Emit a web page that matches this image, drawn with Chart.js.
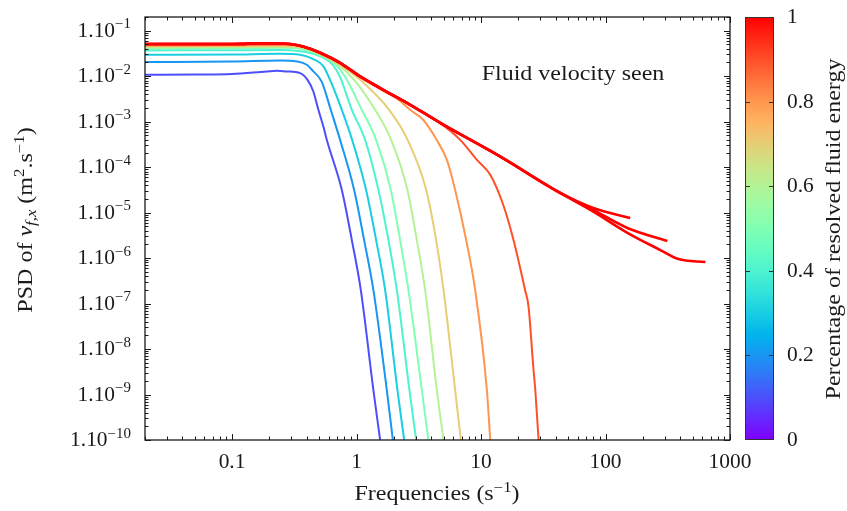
<!DOCTYPE html>
<html>
<head>
<meta charset="utf-8">
<script src="https://cdn.jsdelivr.net/npm/chart.js@4.4.1/dist/chart.umd.min.js"></script>
<style>
  body { margin: 0; background: #fff; }
  canvas { display: block; }
</style>
</head>
<body>
<canvas id="psdChart" width="847" height="511"></canvas>
<script>
// PSD curves, [frequency, psd]
const psd01 = [[0.02, 0.0107], [0.05, 0.0109], [0.1, 0.0112], [0.19, 0.0127], [0.23, 0.0131], [0.275, 0.0127], [0.352, 0.0117], [0.404, 0.0083], [0.45, 0.0046], [0.494, 0.00182], [0.542, 7.8e-4], [0.577, 3.98e-4], [0.762, 3.15e-5], [0.917, 2.49e-6], [1.083, 1.97e-7], [1.367, 1.24e-9], [1.548, 1e-10]];
const psd02 = [[0.02, 0.0205], [0.1, 0.021], [0.243, 0.0222], [0.331, 0.0211], [0.399, 0.0178], [0.45, 0.0127], [0.526, 0.0075], [0.621, 0.00182], [0.738, 3.98e-4], [0.957, 3.15e-5], [1.151, 2.49e-6], [1.367, 1.97e-7], [1.752, 1.24e-9], [1.958, 1e-10]];
const psd03 = [[0.02, 0.0296], [0.1, 0.03], [0.243, 0.0311], [0.352, 0.0296], [0.45, 0.0238], [0.542, 0.0164], [0.613, 0.0083], [0.762, 0.00182], [0.922, 3.98e-4], [1.194, 3.15e-5], [1.437, 2.49e-6], [1.698, 1.97e-7], [2.133, 1.24e-9], [2.414, 1e-10]];
const psd04 = [[0.02, 0.0368], [0.1, 0.0372], [0.243, 0.0375], [0.45, 0.0311], [0.577, 0.023], [0.65, 0.0172], [0.738, 0.0095], [0.917, 0.00182], [1.172, 3.98e-4], [1.5, 3.15e-5], [1.805, 2.49e-6], [2.109, 1.97e-7], [2.663, 1.24e-9], [3.013, 1e-10]];
const psd05 = [[0.02, 0.0402], [0.1, 0.041], [0.243, 0.0422], [0.372, 0.0391], [0.51, 0.029], [0.694, 0.0172], [0.836, 0.0083], [1.103, 0.00182], [1.437, 3.98e-4], [1.887, 3.15e-5], [2.24, 2.49e-6], [2.614, 1.97e-7], [3.35, 1.24e-9], [3.78, 1e-10]];
const psd06 = [[0.02, 0.0429], [0.1, 0.0435], [0.243, 0.0444], [0.372, 0.0412], [0.51, 0.0300], [0.738, 0.0165], [0.957, 0.0083], [1.411, 0.00182], [1.897, 3.98e-4], [2.565, 3.15e-5], [3.05, 2.49e-6], [3.56, 1.97e-7], [4.42, 1.24e-9], [5.0, 1e-10]];
const psd07 = [[0.02, 0.045], [0.1, 0.0455], [0.243, 0.0455], [0.372, 0.0433], [0.51, 0.031], [0.738, 0.0178], [1.069, 0.0083], [1.828, 0.00182], [2.574, 3.98e-4], [3.63, 3.15e-5], [4.36, 2.49e-6], [5.0, 1.97e-7], [6.2, 1.24e-9], [6.89, 1e-10]];
const psd08 = [[0.02, 0.0474], [0.1, 0.0478], [0.292, 0.0492], [0.372, 0.0438], [0.51, 0.0316], [0.738, 0.0189], [1.069, 0.0094], [1.64, 0.00474], [2.24, 0.00285], [2.697, 0.00182], [3.43, 0.0011], [4.4, 3.98e-4], [5.32, 1.44e-4], [6.2, 3.15e-5], [7.6, 2.49e-6], [8.98, 1.97e-7], [11.15, 1.24e-9], [11.86, 1e-10]];
const psd09 = [[0.02, 0.0497], [0.1, 0.05], [0.292, 0.0505], [0.372, 0.0445], [0.51, 0.0323], [0.738, 0.0194], [1.069, 0.0097], [1.64, 0.0049], [2.54, 0.00255], [4.7, 9.3e-4], [6.81, 3.98e-4], [9.27, 1.44e-4], [11.9, 6.73e-5], [15.1, 1.47e-5], [18.24, 2.49e-6], [22.6, 1.97e-7], [24.1, 8.5e-8], [26.3, 4e-9], [27.3, 1.24e-9], [29.0, 1e-10]];
const psd10a = [[0.02, 0.051], [0.1, 0.051], [0.184, 0.0531], [0.292, 0.051], [0.372, 0.045], [0.51, 0.0327], [0.738, 0.0197], [1.069, 0.00985], [1.64, 0.00501], [2.54, 0.00259], [4.7, 9.4e-4], [14.3, 1.7e-4], [43.3, 2.7e-5], [79.8, 1.26e-5], [158, 7.6e-6]];
const psd10b = [[0.02, 0.051], [0.1, 0.051], [0.184, 0.0531], [0.292, 0.051], [0.372, 0.045], [0.51, 0.0327], [0.738, 0.0197], [1.069, 0.00985], [1.64, 0.00501], [2.54, 0.00259], [4.7, 9.4e-4], [14.3, 1.7e-4], [43.3, 2.7e-5], [79.8, 1.15e-5], [150, 4.6e-6], [314, 2.37e-6]];
const psd10c = [[0.02, 0.051], [0.1, 0.051], [0.184, 0.0531], [0.292, 0.051], [0.372, 0.045], [0.51, 0.0327], [0.738, 0.0197], [1.069, 0.00985], [1.64, 0.00501], [2.54, 0.00259], [4.7, 9.4e-4], [14.3, 1.7e-4], [43.3, 2.7e-5], [79.8, 1.05e-5], [150, 3.6e-6], [276, 1.5e-6], [385, 9.5e-7], [634, 8.2e-7]];

const curves = [psd01, psd02, psd03, psd04, psd05, psd06, psd07, psd08, psd09, psd10a, psd10b, psd10c];
const energyLevels = [0.1, 0.2, 0.3, 0.4, 0.5, 0.6, 0.7, 0.8, 0.9, 1, 1, 1];

const xTicks = [0.1, 1, 10, 100, 1000];
const xTickLabels = ['0.1', '1', '10', '100', '1000'];
const yTicks = [1e-1, 1e-2, 1e-3, 1e-4, 1e-5, 1e-6, 1e-7, 1e-8, 1e-9, 1e-10];
const yTickExps = ['\u22121', '\u22122', '\u22123', '\u22124', '\u22125', '\u22126', '\u22127', '\u22128', '\u22129', '\u221210'];
const barTicks = [0, 0.2, 0.4, 0.6, 0.8, 1];
const barTickLabels = ['0', '0.2', '0.4', '0.6', '0.8', '1'];

const SERIF = '"Liberation Serif", "DejaVu Serif", serif';
const INK = '#1a1a1a';
const TXT = 1.2;   // horizontal stretch for words
const NUM = 1.07;  // horizontal stretch for numbers

// matplotlib-like "rainbow" colour map
function rainbow(v) {
    const r = Math.min(1, Math.abs(2 * v - 0.5));
    const g = Math.sin(Math.PI * v);
    const b = Math.max(0, Math.cos(Math.PI * v / 2));
    return `rgb(${Math.round(r * 255)}, ${Math.round(g * 255)}, ${Math.round(b * 255)})`;
}

// draw text made of several runs: [text, size, italic, dy]
function drawRuns(ctx, runs, x, y, align, stretch) {
    const sx = stretch || 1;
    let total = 0;
    runs.forEach(r => {
        ctx.font = (r[2] ? 'italic ' : '') + r[1] + 'px ' + SERIF;
        r.w = ctx.measureText(r[0]).width * sx;
        total += r.w;
    });
    let cx = align === 'right' ? x - total : align === 'center' ? x - total / 2 : x;
    runs.forEach(r => {
        ctx.font = (r[2] ? 'italic ' : '') + r[1] + 'px ' + SERIF;
        ctx.save();
        ctx.translate(cx, y + (r[3] || 0));
        ctx.scale(sx, 1);
        ctx.fillText(r[0], 0, 0);
        ctx.restore();
        cx += r.w;
    });
}

const decorations = {
    id: 'decorations',
    afterDatasetsDraw(chart) {
        const ctx = chart.ctx;
        const area = chart.chartArea;
        const xs = chart.scales.x;
        const ys = chart.scales.y;
        ctx.save();
        ctx.strokeStyle = INK;
        ctx.fillStyle = INK;
        ctx.textAlign = 'left';

        // ticks on all four sides, pointing inward
        ctx.lineWidth = 1;
        ctx.beginPath();
        for (let d = 0.01; d < 1001; d *= 10) {
            for (let k = 1; k <= 9; k++) {
                const v = k * d;
                if (v < 0.02 || v > 1000.001) continue;
                const px = Math.round(xs.getPixelForValue(v)) + 0.5;
                const len = k === 1 ? 6 : 3.5;
                ctx.moveTo(px, area.bottom); ctx.lineTo(px, area.bottom - len);
                ctx.moveTo(px, area.top); ctx.lineTo(px, area.top + len);
            }
        }
        for (let d = 1e-10; d < 0.5; d *= 10) {
            for (let k = 1; k <= 9; k++) {
                const v = k * d;
                if (v < 0.99e-10 || v > 0.2) continue;
                const py = Math.round(ys.getPixelForValue(v)) + 0.5;
                const len = k === 1 ? 6 : 3.5;
                ctx.moveTo(area.left, py); ctx.lineTo(area.left + len, py);
                ctx.moveTo(area.right, py); ctx.lineTo(area.right - len, py);
            }
        }
        ctx.stroke();

        // frame
        ctx.lineWidth = 1.3;
        ctx.strokeRect(area.left, area.top, area.right - area.left, area.bottom - area.top);

        // tick labels
        ctx.textBaseline = 'middle';
        yTicks.forEach((v, i) => {
            const py = ys.getPixelForValue(v);
            drawRuns(ctx, [['1.10', 20, false, 1], [yTickExps[i], 14, false, -6]], 131, py, 'right', NUM);
        });
        xTicks.forEach((v, i) => {
            const px = xs.getPixelForValue(v);
            drawRuns(ctx, [[xTickLabels[i], 20, false, 0]], px, 463, 'center', NUM);
        });

        // axis titles
        drawRuns(ctx, [['Frequencies (s', 20, false, 0], ['\u22121', 14, false, -7], [')', 20, false, 0]], 437, 495, 'center', TXT);
        ctx.save();
        ctx.translate(27, 220);
        ctx.rotate(-Math.PI / 2);
        drawRuns(ctx, [['PSD of ', 20, false, 0], ['v', 20, true, 0], ['f,x', 14, true, 5],
            [' (m', 20, false, 0], ['2', 14, false, -7], ['.s', 20, false, 0], ['\u22121', 14, false, -7], [')', 20, false, 0]], 0, 0, 'center', TXT);
        ctx.restore();

        // annotation
        drawRuns(ctx, [['Fluid velocity seen', 20, false, 0]], 573, 75, 'center', TXT);

        // colour bar
        const bx0 = 745, bx1 = 774;
        const grad = ctx.createLinearGradient(0, area.bottom, 0, area.top);
        for (let s = 0; s <= 20; s++) grad.addColorStop(s / 20, rainbow(s / 20));
        ctx.fillStyle = grad;
        ctx.fillRect(bx0, area.top, bx1 - bx0, area.bottom - area.top);
        ctx.lineWidth = 1;
        ctx.strokeStyle = '#333';
        ctx.strokeRect(bx0 + 0.5, area.top + 0.5, bx1 - bx0 - 1, area.bottom - area.top - 1);
        ctx.fillStyle = INK;
        ctx.beginPath();
        barTicks.forEach((v, i) => {
            const py = Math.round(area.bottom - v * (area.bottom - area.top)) + 0.5;
            if (v > 0 && v < 1) {
                ctx.moveTo(bx0, py); ctx.lineTo(bx0 + 5, py);
                ctx.moveTo(bx1, py); ctx.lineTo(bx1 - 5, py);
            }
            drawRuns(ctx, [[barTickLabels[i], 20, false, 0]], 787, py, 'left', NUM);
        });
        ctx.stroke();
        ctx.save();
        ctx.translate(835, 229);
        ctx.rotate(-Math.PI / 2);
        drawRuns(ctx, [['Percentage of resolved fluid energy', 20, false, 0]], 0, 0, 'center', TXT);
        ctx.restore();

        ctx.restore();
    }
};

function buildDatasets() {
    return curves.map((pts, i) => ({
        data: pts.map(p => ({ x: p[0], y: p[1] })),
        borderColor: rainbow(energyLevels[i]),
        borderWidth: energyLevels[i] === 1 ? 2.6 : 2,
        pointRadius: 0,
        fill: false,
        cubicInterpolationMode: 'monotone',
        order: curves.length - i
    }));
}

document.addEventListener('DOMContentLoaded', function() {
    const ctx = document.getElementById('psdChart').getContext('2d');
    window.psdChart = new Chart(ctx, {
        type: 'line',
        data: { datasets: buildDatasets() },
        options: {
            responsive: false,
            animation: false,
            devicePixelRatio: 1,
            layout: { padding: { left: 145, right: 117, top: 17, bottom: 71 } },
            scales: {
                x: { type: 'logarithmic', min: 0.02, max: 1000, display: false },
                y: { type: 'logarithmic', min: 1e-10, max: 0.2, display: false }
            },
            plugins: {
                legend: { display: false },
                tooltip: { enabled: false }
            }
        },
        plugins: [decorations]
    });
});
</script>
</body>
</html>
